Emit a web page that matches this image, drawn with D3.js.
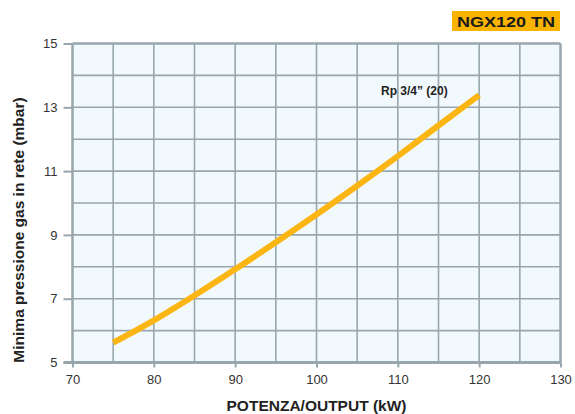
<!DOCTYPE html>
<html>
<head>
<meta charset="utf-8">
<script src="https://cdn.jsdelivr.net/npm/d3@7"></script>
<style>
  body { margin: 0; background: #fff; }
  text { font-family: "Liberation Sans", Arial, Helvetica, sans-serif; }
</style>
</head>
<body>
<svg id="canvas" width="575" height="414"></svg>
<script>
'use strict';

// Data
const outputKw = [75, 80, 85, 90, 95, 100, 105, 110, 115, 120];
const pressureMbar = [5.62, 6.32, 7.1, 7.92, 8.77, 9.64, 10.54, 11.47, 12.43, 13.38];
const xTicks = [70, 80, 90, 100, 110, 120, 130];
const yTicks = [5, 7, 9, 11, 13, 15];
const xGrid = d3.range(70, 131, 5);
const yGrid = d3.range(5, 16, 1);
const seriesLabel = 'Rp 3/4\u201d (20)';
const badgeLabel = 'NGX120 TN';
const xTitle = 'POTENZA/OUTPUT (kW)';
const yTitle = 'Minima pressione gas in rete (mbar)';

const svg = d3.select('#canvas');
const gridColor = '#97a6ad';

const x = d3.scaleLinear().domain([70, 130]).range([72.5, 560.5]);
const y = d3.scaleLinear().domain([5, 15]).range([362.5, 43.5]);

// plot background
svg.append('rect')
    .attr('x', x(70)).attr('y', y(15))
    .attr('width', x(130) - x(70)).attr('height', y(5) - y(15))
    .attr('fill', '#f2f9fd');

// grid
const grid = svg.append('g').attr('stroke', gridColor);
grid.selectAll('line.v')
    .data(xGrid)
    .enter().append('line')
        .attr('class', 'v')
        .attr('x1', function(d) { return x(d); })
        .attr('x2', function(d) { return x(d); })
        .attr('y1', y(15)).attr('y2', y(5))
        .attr('stroke-width', function(d) { return (d === 70 || d === 130) ? 2.5 : 1.6; });
grid.selectAll('line.h')
    .data(yGrid)
    .enter().append('line')
        .attr('class', 'h')
        .attr('x1', x(70)).attr('x2', x(130))
        .attr('y1', function(d) { return y(d); })
        .attr('y2', function(d) { return y(d); })
        .attr('stroke-width', function(d) { return (d === 5 || d === 15) ? 2.5 : 1.6; });

// axes
const yAxis = svg.append('g')
    .attr('transform', 'translate(' + x(70) + ',0)')
    .call(d3.axisLeft(y).tickValues(yTicks).tickSize(9).tickPadding(6).tickFormat(d3.format('d')));
const xAxis = svg.append('g')
    .attr('transform', 'translate(0,' + y(5) + ')')
    .call(d3.axisBottom(x).tickValues(xTicks).tickSize(5).tickPadding(7).tickFormat(d3.format('d')));

[xAxis, yAxis].forEach(function(a) {
    a.select('.domain').remove();
    a.selectAll('.tick line').attr('stroke', gridColor).attr('stroke-width', 2);
    a.selectAll('.tick text')
        .attr('fill', '#333')
        .style('font-size', '13px');
});
// bottom line extends left like the y ticks
svg.append('line')
    .attr('x1', x(70) - 9).attr('x2', x(130))
    .attr('y1', y(5)).attr('y2', y(5))
    .attr('stroke', gridColor).attr('stroke-width', 3);

// curve
const line = d3.line()
    .x(function(d, i) { return x(outputKw[i]); })
    .y(function(d) { return y(d); })
    .curve(d3.curveMonotoneX);

svg.append('path')
    .datum(pressureMbar)
    .attr('d', line)
    .attr('fill', 'none')
    .attr('stroke', '#fbb614')
    .attr('stroke-width', 6);

svg.append('text')
    .attr('x', 381).attr('y', 95)
    .attr('fill', '#222')
    .style('font-size', '12px')
    .style('font-weight', 'bold')
    .text(seriesLabel);

// badge
svg.append('rect')
    .attr('x', 452).attr('y', 11)
    .attr('width', 108).attr('height', 20)
    .attr('fill', '#f9b300');
svg.append('text')
    .attr('x', 506).attr('y', 27)
    .attr('text-anchor', 'middle')
    .attr('fill', '#1a1a1a')
    .attr('textLength', 98)
    .attr('lengthAdjust', 'spacingAndGlyphs')
    .style('font-size', '15.5px')
    .style('font-weight', 'bold')
    .text(badgeLabel);

// titles
svg.append('text')
    .attr('x', (x(70) + x(130)) / 2).attr('y', 411)
    .attr('text-anchor', 'middle')
    .attr('fill', '#222')
    .style('font-size', '15.5px')
    .style('font-weight', 'bold')
    .text(xTitle);

svg.append('text')
    .attr('transform', 'translate(24,' + (y(10) + 27) + ') rotate(-90)')
    .attr('text-anchor', 'middle')
    .attr('fill', '#222')
    .style('font-size', '15.5px')
    .style('font-weight', 'bold')
    .text(yTitle);
</script>
</body>
</html>
